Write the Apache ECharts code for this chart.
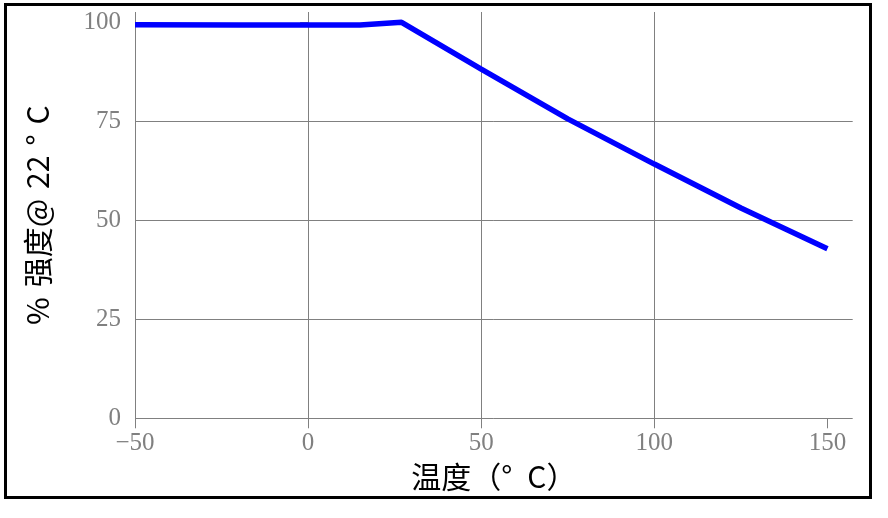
<!DOCTYPE html>
<html>
<head>
<meta charset="utf-8">
<script src="https://cdn.jsdelivr.net/npm/echarts@6/dist/echarts.min.js"></script>
<style>
html,body{margin:0;padding:0;background:#fff;}
#chart{width:888px;height:518px;}
</style>
</head>
<body>
<div id="chart"></div>
<script>
// Data
const temperatures = [-50, -20, 15, 27, 50, 75, 100, 125, 150];
const strengthPct  = [99.4, 99.3, 99.3, 100, 88.2, 75.6, 64.2, 53.1, 42.8];
const xTicks = [-50, 0, 50, 100, 150];
const yTicks = [0, 25, 50, 75, 100];
const xName = '温度（°\u2002C）';
const yName = '%\u2004强度@\u200422\u2004°\u2004C';

const data = temperatures.map((t, i) => [t, strengthPct[i]]);
const chart = echarts.init(document.getElementById('chart'), null, {renderer: 'canvas'});
const gridColor = '#808080';
const labelFont = 'Liberation Serif';
const nameFont = 'Noto Sans CJK SC';

chart.setOption({
  animation: false,
  backgroundColor: '#fff',
  graphic: [{
    type: 'rect',
    shape: {x: 5.5, y: 4.5, width: 865, height: 493},
    style: {fill: null, stroke: '#000', lineWidth: 3},
    z: 100
  }],
  grid: {left: 135, right: 35.3, top: 12, bottom: 99.7, containLabel: false},
  xAxis: {
    type: 'value',
    min: -50, max: 157.3, interval: 50,
    name: xName, nameLocation: 'middle', nameGap: 36,
    nameTextStyle: {color: '#000', fontSize: 30, fontFamily: nameFont},
    axisLine: {show: false},
    axisTick: {show: true, length: 10, customValues: xTicks, lineStyle: {color: gridColor, width: 1}},
    axisLabel: {
      customValues: xTicks, margin: 13, color: '#808080', fontSize: 25, fontFamily: labelFont,
      formatter: v => String(v).replace('-', '\u2212')
    },
    splitLine: {show: true, showMaxLine: false, lineStyle: {color: gridColor, width: 1}}
  },
  yAxis: {
    type: 'value',
    min: 0, max: 102.6, interval: 25,
    name: yName, nameLocation: 'middle', nameGap: 82,
    nameTextStyle: {color: '#000', fontSize: 30, fontFamily: nameFont},
    axisLine: {show: false},
    axisTick: {show: true, length: 8, customValues: yTicks, lineStyle: {color: gridColor, width: 1}},
    axisLabel: {customValues: yTicks, margin: 14, color: '#808080', fontSize: 25, fontFamily: labelFont},
    splitLine: {show: true, showMaxLine: false, lineStyle: {color: gridColor, width: 1}}
  },
  series: [{
    type: 'line',
    data: data,
    showSymbol: false,
    lineStyle: {color: '#0000ff', width: 5.5},
    itemStyle: {color: '#0000ff'}
  }]
});
</script>
</body>
</html>
